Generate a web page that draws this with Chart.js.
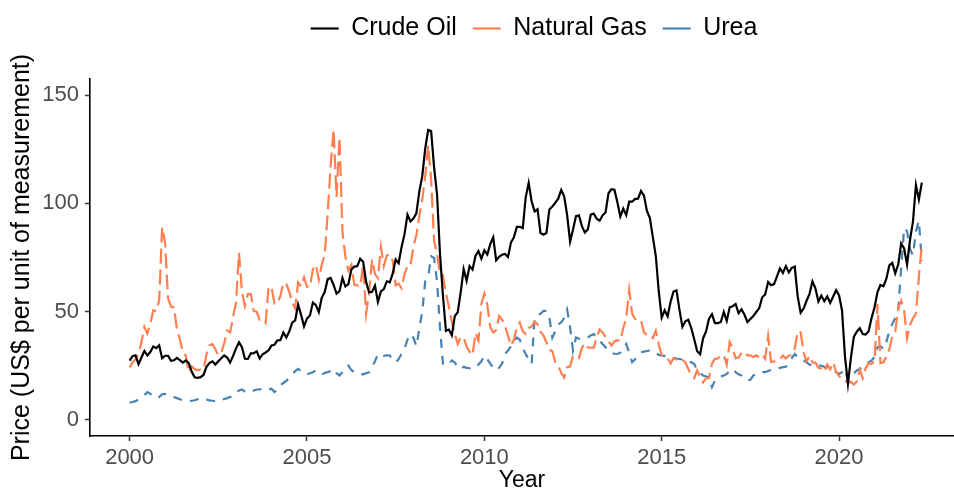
<!DOCTYPE html>
<html>
<head>
<meta charset="utf-8">
<script src="https://cdn.jsdelivr.net/npm/chart.js@4.4.1/dist/chart.umd.min.js"></script>
<style>
  html, body { margin: 0; padding: 0; background: #fff; overflow: hidden; }
  #priceChart { display: block; }
</style>
</head>
<body>
<canvas id="priceChart" width="954" height="500"></canvas>
<script>
// monthly prices, Jan 2000 - May 2022 (one row per year)
const crudeOil = [
  27.3, 29.4, 29.8, 25.7, 28.8, 31.8, 29.7, 31.3, 33.9, 33.1, 34.4, 28.4,
  29.6, 29.6, 27.3, 27.5, 28.6, 27.6, 26.4, 27.4, 26.2, 22.2, 19.6, 19.4,
  19.7, 20.7, 24.5, 26.2, 27.0, 25.5, 27.0, 28.4, 29.7, 28.8, 26.4, 29.5,
  33.0, 35.8, 33.5, 28.2, 28.1, 30.7, 30.8, 31.6, 28.3, 30.3, 31.1, 32.1,
  34.3, 34.7, 36.7, 36.8, 40.3, 38.0, 40.8, 44.9, 45.9, 53.3, 48.5, 43.2,
  46.8, 48.2, 54.2, 53.0, 49.8, 56.4, 59.0, 65.0, 65.6, 62.3, 58.3, 59.4,
  65.5, 61.6, 62.7, 69.4, 70.8, 71.0, 74.4, 73.0, 63.8, 58.9, 59.1, 62.0,
  54.5, 59.3, 60.4, 64.0, 63.5, 67.5, 74.1, 72.4, 79.9, 85.8, 94.8, 91.7,
  93.0, 95.4, 105.5, 112.6, 125.4, 133.9, 133.4, 116.7, 104.1, 76.6, 57.3, 41.1,
  41.7, 39.1, 47.9, 49.7, 59.0, 69.6, 64.2, 71.1, 69.4, 75.7, 78.0, 74.5,
  78.3, 76.4, 81.2, 84.3, 73.7, 75.3, 76.3, 76.6, 75.2, 81.9, 84.3, 89.2,
  89.2, 88.6, 102.9, 109.5, 100.9, 96.3, 97.3, 86.3, 85.5, 86.3, 97.2, 98.6,
  100.3, 102.2, 106.2, 103.3, 94.7, 82.3, 87.9, 94.1, 94.5, 89.5, 86.5, 87.9,
  94.8, 95.3, 92.9, 92.0, 94.5, 95.8, 104.7, 106.6, 106.3, 100.5, 93.9, 97.6,
  94.6, 100.8, 100.8, 102.1, 102.2, 105.8, 103.6, 96.5, 93.2, 84.4, 75.8, 59.3,
  47.2, 50.6, 47.8, 54.5, 59.3, 59.8, 50.9, 42.9, 45.5, 46.2, 42.4, 37.2,
  31.7, 30.3, 37.6, 40.8, 46.7, 48.8, 44.7, 44.7, 45.2, 49.8, 45.7, 52.0,
  52.5, 53.5, 49.3, 51.1, 48.5, 45.2, 46.6, 48.0, 49.8, 51.6, 56.6, 57.9,
  63.7, 62.2, 62.7, 66.3, 70.0, 67.9, 71.0, 68.1, 70.2, 70.8, 57.0, 49.5,
  51.4, 55.0, 58.2, 63.9, 60.8, 54.7, 57.4, 54.8, 57.0, 54.0, 57.0, 59.9,
  57.5, 50.5, 29.2, 16.6, 28.6, 38.3, 40.7, 42.3, 39.6, 39.4, 40.9, 47.0,
  52.0, 59.0, 62.3, 61.7, 65.2, 71.4, 72.5, 67.7, 71.7, 81.5, 79.2, 71.7,
  83.2, 91.6, 108.5, 101.8, 109.6
];
const naturalGas = [
  24.2, 26.6, 27.9, 30.4, 35.9, 42.9, 39.9, 44.3, 50.6, 50.2, 55.2, 89.0,
  81.7, 56.1, 52.3, 51.9, 41.9, 37.2, 31.1, 29.7, 21.9, 24.6, 23.4, 23.0,
  23.2, 23.2, 30.3, 34.3, 35.0, 32.6, 29.9, 30.9, 35.5, 41.3, 40.4, 47.4,
  54.3, 77.1, 59.3, 52.6, 58.1, 58.2, 50.3, 49.9, 46.2, 46.3, 44.7, 61.3,
  61.4, 53.7, 53.9, 57.1, 63.3, 62.7, 59.3, 54.1, 51.5, 63.5, 61.7, 65.8,
  61.5, 61.4, 69.6, 71.6, 64.7, 71.8, 76.3, 95.3, 117.5, 134.2, 103.0, 130.5,
  86.9, 75.4, 68.9, 71.6, 62.5, 62.1, 61.7, 71.4, 49.0, 58.5, 74.1, 67.3,
  65.5, 80.0, 71.1, 76.0, 76.4, 73.5, 62.2, 62.9, 60.8, 67.4, 71.0, 71.1,
  79.9, 85.4, 94.1, 101.8, 112.7, 126.9, 110.9, 82.6, 76.7, 67.4, 66.8, 58.2,
  52.4, 45.2, 39.6, 35.0, 38.3, 38.0, 33.8, 31.4, 29.9, 40.1, 36.6, 53.5,
  58.3, 53.2, 42.9, 40.3, 41.4, 48.0, 46.3, 43.2, 38.9, 34.3, 37.1, 42.5,
  44.9, 40.9, 39.7, 42.4, 43.1, 45.4, 44.2, 40.6, 39.0, 35.7, 32.4, 31.7,
  26.7, 25.0, 21.7, 19.5, 24.3, 24.6, 29.5, 28.4, 28.5, 33.2, 35.4, 33.4,
  33.3, 33.3, 38.1, 41.7, 40.4, 38.3, 36.2, 34.3, 36.2, 36.8, 36.4, 42.4,
  47.1, 60.0, 49.0, 46.6, 45.8, 45.9, 40.5, 39.1, 39.2, 37.8, 41.2, 34.8,
  29.9, 28.7, 28.3, 26.1, 28.5, 27.8, 28.4, 27.7, 26.6, 23.4, 20.9, 19.3,
  22.8, 19.9, 17.3, 19.2, 19.2, 25.9, 28.2, 28.2, 29.9, 29.8, 25.5, 35.9,
  33.0, 28.5, 28.8, 31.0, 31.5, 29.8, 29.8, 29.0, 29.8, 28.8, 30.1, 28.2,
  38.7, 26.7, 26.9, 28.0, 28.0, 29.7, 28.3, 29.6, 30.0, 32.8, 40.9, 40.4,
  31.1, 26.9, 29.5, 26.5, 26.4, 24.0, 23.7, 22.2, 25.6, 23.3, 26.5, 22.2,
  20.2, 19.1, 17.9, 17.4, 17.5, 16.3, 17.7, 23.0, 19.2, 23.9, 26.1, 25.9,
  27.1, 53.5, 26.2, 26.6, 29.1, 32.6, 38.4, 40.7, 51.6, 55.1, 50.5, 37.6,
  43.8, 46.9, 49.0, 66.0, 81.4
];
const urea = [
  8.0, 8.2, 8.6, 9.5, 10.5, 11.5, 12.8, 12.0, 11.0, 10.0, 10.5, 11.8,
  12.0, 11.5, 10.8, 10.5, 10.0, 9.5, 9.0, 8.8, 8.6, 8.8, 9.0, 9.5,
  10.0, 9.8, 9.4, 9.0, 8.8, 8.6, 8.8, 9.2, 9.6, 10.0, 10.5, 11.0,
  12.5, 13.5, 14.0, 13.0, 12.5, 13.0, 13.5, 14.0, 14.0, 14.5, 14.5, 14.0,
  14.3, 12.8, 14.0, 16.0, 17.0, 18.0, 19.5, 21.0, 22.5, 23.5, 22.5, 21.5,
  21.0, 21.5, 22.0, 22.8, 22.0, 21.0, 21.6, 22.0, 22.5, 23.5, 21.5, 20.5,
  22.0, 24.0, 25.0, 23.0, 22.0, 21.5, 21.2, 21.0, 21.5, 22.0, 24.5, 27.0,
  30.4, 30.0, 29.5, 29.8, 29.7, 27.5, 26.6, 28.0, 30.5, 33.0, 37.0, 39.6,
  38.0, 34.0, 42.0, 50.3, 64.0, 66.0, 75.6, 74.8, 64.0, 42.7, 25.8, 25.0,
  26.0, 27.4, 26.5, 24.3, 23.5, 24.5, 24.0, 23.8, 23.5, 24.5, 25.5, 27.0,
  29.7, 28.0, 26.0, 24.0, 22.8, 24.0, 26.0, 30.4, 32.0, 34.0, 36.0, 38.0,
  37.0, 33.0, 30.4, 28.0, 25.8, 47.3, 48.0, 49.0, 50.3, 50.3, 47.3, 38.0,
  41.0, 44.0, 45.0, 47.0, 51.0, 42.7, 32.0, 38.0, 37.5, 37.3, 37.5, 38.0,
  39.0, 39.6, 38.0, 36.6, 35.0, 33.5, 32.0, 31.0, 30.5, 30.4, 31.0, 33.0,
  35.0, 31.0, 26.6, 28.0, 29.5, 31.2, 31.5, 31.8, 32.0, 32.0, 31.0, 30.0,
  29.7, 29.5, 29.2, 28.9, 28.6, 28.3, 28.1, 27.8, 27.5, 27.0, 26.6, 25.8,
  22.8, 21.5, 20.5, 20.0, 19.7, 15.1, 18.2, 19.0, 20.0, 20.5, 21.2, 22.5,
  23.5, 22.0, 21.0, 20.5, 19.5, 18.2, 18.5, 20.5, 21.0, 21.5, 22.0, 22.0,
  22.5, 23.0, 23.5, 23.5, 24.0, 24.3, 24.5, 26.6, 28.5, 30.4, 29.0, 28.0,
  27.4, 26.5, 25.5, 25.0, 25.0, 25.0, 25.0, 24.5, 24.0, 23.5, 22.8, 22.0,
  21.2, 22.0, 23.5, 18.2, 20.0, 21.5, 22.8, 23.5, 24.3, 25.5, 26.5, 27.4,
  29.0, 33.5, 34.0, 32.7, 36.0, 41.0, 44.2, 47.0, 50.3, 70.0, 88.6, 87.1,
  79.0, 76.0, 87.0, 92.0, 73.3
];
const startYear = 2000;
const xTicks = [2000, 2005, 2010, 2015, 2020];
const yTicks = [0, 50, 100, 150];

const fontFamily = '"Liberation Sans", Arial, Helvetica, sans-serif';
const toPoints = arr => arr.map((v, i) => ({ x: startYear + i / 12, y: v }));

const priceData = {
    datasets: [
        {
            label: 'Crude Oil',
            data: toPoints(crudeOil),
            borderColor: '#000000',
            backgroundColor: '#000000',
            borderWidth: 2.2
        },
        {
            label: 'Natural Gas',
            data: toPoints(naturalGas),
            borderColor: '#FF7F50',
            backgroundColor: '#FF7F50',
            borderWidth: 2.2,
            borderDash: [15, 6]
        },
        {
            label: 'Urea',
            data: toPoints(urea),
            borderColor: '#4682B4',
            backgroundColor: '#4682B4',
            borderWidth: 2.2,
            borderDash: [9, 8]
        }
    ]
};

const tickGrid = {
    drawOnChartArea: false,
    drawTicks: true,
    tickLength: 5,
    tickWidth: 1.5,
    tickColor: '#333333'
};

// legend sits in the top band; push the panel down and shift legend like ggplot does
const legendPlacement = {
    id: 'legendPlacement',
    afterInit(chart) {
        const legend = chart.legend;
        const fit = legend.fit;
        legend.fit = function () {
            fit.call(this);
            this.height += 28;
        };
    },
    afterLayout(chart) {
        chart.legend.left += 57;
        chart.legend.right += 57;
    }
};

const priceConfig = {
    type: 'line',
    data: priceData,
    options: {
        responsive: false,
        animation: false,
        devicePixelRatio: 1,
        layout: { padding: 0 },
        elements: { point: { radius: 0 }, line: { tension: 0 } },
        scales: {
            x: {
                type: 'linear',
                min: 1998.883,
                max: 2023.24,
                afterBuildTicks: scale => { scale.ticks = xTicks.map(v => ({ value: v })); },
                afterFit: scale => { scale.height = 64; },
                grid: tickGrid,
                border: { color: '#000000', width: 1.6 },
                ticks: {
                    color: '#4D4D4D',
                    padding: 4,
                    maxRotation: 0,
                    font: { family: fontFamily, size: 22 },
                    callback: v => String(v)
                },
                title: {
                    display: true,
                    text: 'Year',
                    color: '#000000',
                    padding: { top: 0, bottom: 6 },
                    font: { family: fontFamily, size: 23 }
                }
            },
            y: {
                min: -7.5,
                max: 157.5,
                afterBuildTicks: scale => { scale.ticks = yTicks.map(v => ({ value: v })); },
                afterFit: scale => { scale.width = 90; },
                grid: tickGrid,
                border: { color: '#000000', width: 1.6 },
                ticks: {
                    color: '#4D4D4D',
                    padding: 6,
                    font: { family: fontFamily, size: 22 }
                },
                title: {
                    display: true,
                    text: 'Price (US$ per unit of measurement)',
                    color: '#000000',
                    padding: { top: 7, bottom: 0 },
                    font: { family: fontFamily, size: 25 }
                }
            }
        },
        plugins: {
            legend: {
                display: true,
                position: 'top',
                labels: {
                    usePointStyle: true,
                    pointStyle: 'line',
                    pointStyleWidth: 28,
                    boxHeight: 25,
                    padding: 16,
                    color: '#000000',
                    font: { family: fontFamily, size: 25 }
                }
            },
            tooltip: { enabled: false }
        }
    },
    plugins: [legendPlacement]
};
const priceElement = document.querySelector('#priceChart');
const priceChart = new Chart(priceElement, priceConfig);
</script>
</body>
</html>
